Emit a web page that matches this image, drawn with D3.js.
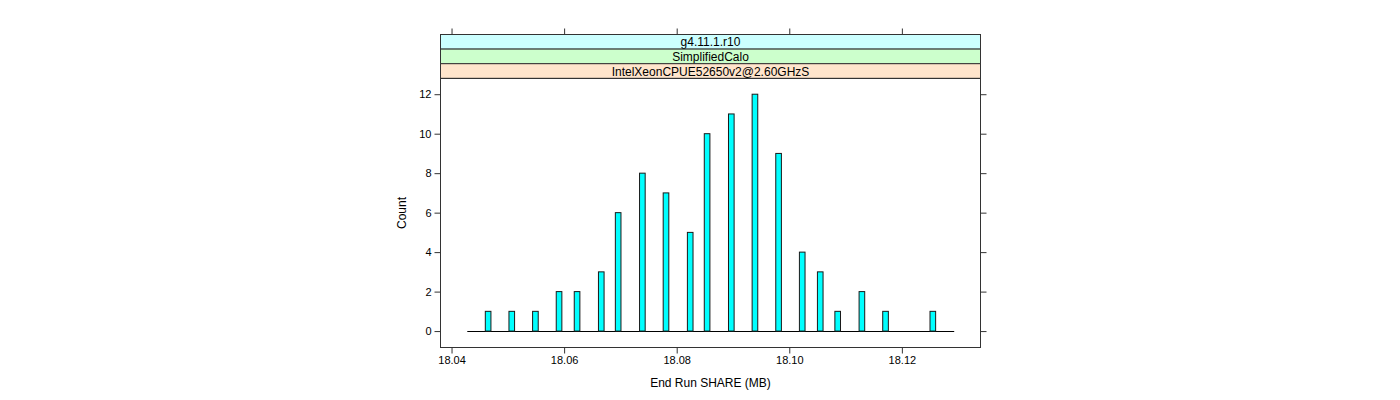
<!DOCTYPE html>
<html><head><meta charset="utf-8">
<script src="https://cdn.jsdelivr.net/npm/d3@7"></script>
<style>html,body{margin:0;padding:0;background:#fff;}svg{display:block;}</style>
</head><body>
<svg id="c" width="1400" height="400"></svg>
<script>
// ---- data ----
const binMids = [18.0465, 18.0507, 18.0549, 18.0591, 18.0623, 18.0666, 18.0696, 18.0739, 18.0781, 18.0824,
                 18.0854, 18.0897, 18.0939, 18.0981, 18.1023, 18.1055, 18.1086, 18.1129, 18.1171, 18.1255];
const counts  = [1, 1, 1, 2, 2, 3, 6, 8, 7, 5, 10, 11, 12, 9, 4, 3, 1, 2, 1, 1];
const binWidth = 0.001;
const breaksRange = [18.0428, 18.1293];
const xTicks = [18.04, 18.06, 18.08, 18.10, 18.12];
const yTicks = [0, 2, 4, 6, 8, 10, 12];
const xDomain = [18.03804, 18.13397];
const yDomain = [-0.832, 12.796];
const strips = ["g4.11.1.r10", "SimplifiedCalo", "IntelXeonCPUE52650v2@2.60GHzS"];
const stripColors = ["#ccffff", "#ccffcc", "#ffe5cc"];
const xTitle = "End Run SHARE (MB)";
const yTitle = "Count";

(function () {
// ---- layout ----
const L = 440.5, R = 980.5, T = 78.5, B = 347.5;
const stripH = 14.6, stripTop = 34.5;
const font = "'Liberation Sans', Arial, Helvetica, sans-serif";
const axisCol = "#333";

const svg = d3.select("#c");
const x = d3.scaleLinear().domain(xDomain).range([L, R]);
const y = d3.scaleLinear().domain(yDomain).range([B, T]);

// strips
strips.forEach((s, i) => {
  const y0 = stripTop + i * stripH;
  svg.append("rect").attr("x", L).attr("y", y0).attr("width", R - L).attr("height", stripH)
    .attr("fill", stripColors[i]).attr("stroke", axisCol).attr("stroke-width", 1);
  svg.append("text").attr("x", (L + R) / 2).attr("y", y0 + stripH / 2 + 0.5)
    .attr("text-anchor", "middle").attr("dominant-baseline", "central")
    .attr("font-family", font).attr("font-size", 12).attr("fill", "#000").text(s);
});

// baseline (zero-count bins)
svg.append("line").attr("x1", x(breaksRange[0])).attr("x2", x(breaksRange[1]))
  .attr("y1", Math.round(y(0)) + 0.5).attr("y2", Math.round(y(0)) + 0.5)
  .attr("stroke", "#000").attr("stroke-width", 1);

// bars
svg.append("g").selectAll("rect").data(binMids.map((m, i) => ({m, c: counts[i]}))).join("rect")
  .attr("x", d => x(d.m - binWidth / 2))
  .attr("width", d => x(d.m + binWidth / 2) - x(d.m - binWidth / 2))
  .attr("y", d => y(d.c))
  .attr("height", d => y(0) - y(d.c))
  .attr("fill", "#00ffff").attr("stroke", "#1a1a1a").attr("stroke-width", 1);

// panel frame
svg.append("rect").attr("x", L).attr("y", T).attr("width", R - L).attr("height", B - T)
  .attr("fill", "none").attr("stroke", axisCol).attr("stroke-width", 1);

// axes
const axB = d3.axisBottom(x).tickValues(xTicks).tickFormat(d3.format(".2f")).tickSize(6).tickPadding(3);
const axT = d3.axisTop(x).tickValues(xTicks).tickFormat("").tickSize(6);
const axL = d3.axisLeft(y).tickValues(yTicks).tickFormat(d3.format("d")).tickSize(6).tickPadding(3);
const axR = d3.axisRight(y).tickValues(yTicks).tickFormat("").tickSize(6);

function style(g) {
  g.select(".domain").remove();
  g.selectAll("line").attr("stroke", axisCol);
  g.selectAll("text").attr("font-family", font).attr("font-size", 11).attr("fill", "#000");
}
svg.append("g").attr("transform", `translate(0,${B})`).call(axB).call(style);
svg.append("g").attr("transform", `translate(0,${stripTop})`).call(axT).call(style);
svg.append("g").attr("transform", `translate(${L},0)`).call(axL).call(style);
svg.append("g").attr("transform", `translate(${R},0)`).call(axR).call(style);

// titles
svg.append("text").attr("x", (L + R) / 2).attr("y", 387).attr("text-anchor", "middle")
  .attr("font-family", font).attr("font-size", 12).attr("fill", "#000").text(xTitle);
svg.append("text").attr("transform", `translate(406,${(T + B) / 2}) rotate(-90)`)
  .attr("text-anchor", "middle").attr("font-family", font).attr("font-size", 12).attr("fill", "#000").text(yTitle);
})();
</script>
</body></html>
